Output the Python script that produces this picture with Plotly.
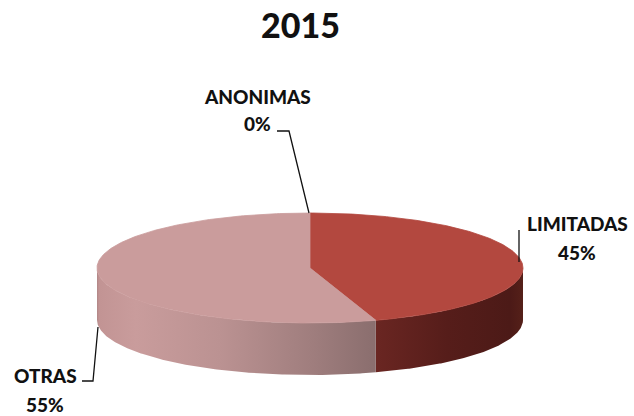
import numpy as np
import plotly.graph_objects as go

# Data
labels = ["ANONIMAS", "LIMITADAS", "OTRAS"]
values = [0, 45, 55]
title_text = "2015"

# Styling per slice: top face colour and side-wall colour ramp (stops by angle)
top_colors = {"ANONIMAS": "#8B2C2A", "LIMITADAS": "#B3483F", "OTRAS": "#CA9C9C"}
side_ramps = {
    "ANONIMAS": [(90, "#5a1f1c"), (270, "#5a1f1c")],
    "LIMITADAS": [(90, "#552019"), (110, "#4c1a17"), (140, "#561d1a"), (162, "#6a2622")],
    "OTRAS": [(162, "#8a6e6e"), (180, "#a07e7e"), (205, "#bb9292"), (235, "#c99c9c"),
              (262, "#c29494"), (270, "#b08686")],
}

# Projected geometry of the tilted disc (drawing units = pixels)
W, H = 634, 416
CX, CY = 310, 268
RX, RY = 213, 55
DEPTH = 52


def rim(theta_deg, drop=0.0):
    t = np.radians(theta_deg)
    return CX + RX * np.sin(t), CY - RY * np.cos(t) + drop


fig = go.Figure()

# Slice angles, clockwise from 12 o'clock
total = float(sum(values))
bounds = np.concatenate([[0], np.cumsum(values)]) / total * 360.0

# Side walls (front half only: 90..270 degrees), shaded with a horizontal gradient
for lab, a0, a1 in zip(labels, bounds[:-1], bounds[1:]):
    lo, hi = max(a0, 90.0), min(a1, 270.0)
    if hi <= lo:
        continue
    arc = np.linspace(lo, hi, 200)
    xt, yt = rim(arc)
    xb, yb = rim(arc[::-1], DEPTH)
    # colour stops placed by the x position of their angle on the rim
    stops = [(rim(a)[0], c) for a, c in side_ramps[lab] if lo - 1e-9 <= a <= hi + 1e-9]
    stops.sort(key=lambda s: s[0])
    x0, x1 = float(xt.min()), float(xt.max())
    cscale = [[(sx - x0) / (x1 - x0), c] for sx, c in stops]
    cscale[0][0], cscale[-1][0] = 0.0, 1.0
    fig.add_trace(go.Scatter(
        x=np.concatenate([xt, xb, xt[:1]]), y=np.concatenate([yt, yb, yt[:1]]),
        mode="lines", fill="toself",
        fillgradient=dict(type="horizontal", colorscale=cscale, start=x0, stop=x1),
        line=dict(width=0), hoverinfo="skip", showlegend=False))

# Top faces
for lab, a0, a1 in zip(labels, bounds[:-1], bounds[1:]):
    if a1 - a0 <= 0:
        continue
    arc = np.linspace(a0, a1, 240)
    xa, ya = rim(arc)
    col = top_colors[lab]
    fig.add_trace(go.Scatter(
        x=np.concatenate([[CX], xa, [CX]]), y=np.concatenate([[CY], ya, [CY]]),
        mode="lines", fill="toself", fillcolor=col,
        line=dict(color=col, width=0.8), hoverinfo="skip", showlegend=False,
        name=lab))

# Labels with leader lines
font = dict(family="Lato, Carlito, sans-serif", size=19, color="#111111", weight=900)
label_pos = {
    "ANONIMAS": (257, 96, 123),
    "LIMITADAS": (577, 223, 252),
    "OTRAS": (45, 375, 404),
}
for lab, v in zip(labels, values):
    x, y1, y2 = label_pos[lab]
    fig.add_annotation(x=x, y=y1, text=lab, showarrow=False,
                       font=font, xanchor="center", yanchor="middle")
    fig.add_annotation(x=x, y=y2, text="%d%%" % round(v), showarrow=False,
                       font=font, xanchor="center", yanchor="middle")

leaders = [
    "M 277 131 L 289 131 L 309 213",
    "M 519 230 L 519 262",
    "M 82 381 L 93 381 L 98 327",
]
for p in leaders:
    fig.add_shape(type="path", path=p, line=dict(color="#111111", width=1.3),
                  xref="x", yref="y")

fig.add_annotation(x=300, y=24, text=title_text, showarrow=False,
                   font=dict(family="Lato, Carlito, sans-serif", size=34,
                             color="#111111", weight=900),
                   xanchor="center", yanchor="middle")

fig.update_xaxes(range=[0, W], visible=False, fixedrange=True)
fig.update_yaxes(range=[H, 0], visible=False, fixedrange=True)
fig.update_layout(width=W, height=H, margin=dict(l=0, r=0, t=0, b=0),
                  paper_bgcolor="white", plot_bgcolor="white", showlegend=False)

fig.write_html("out.html")
